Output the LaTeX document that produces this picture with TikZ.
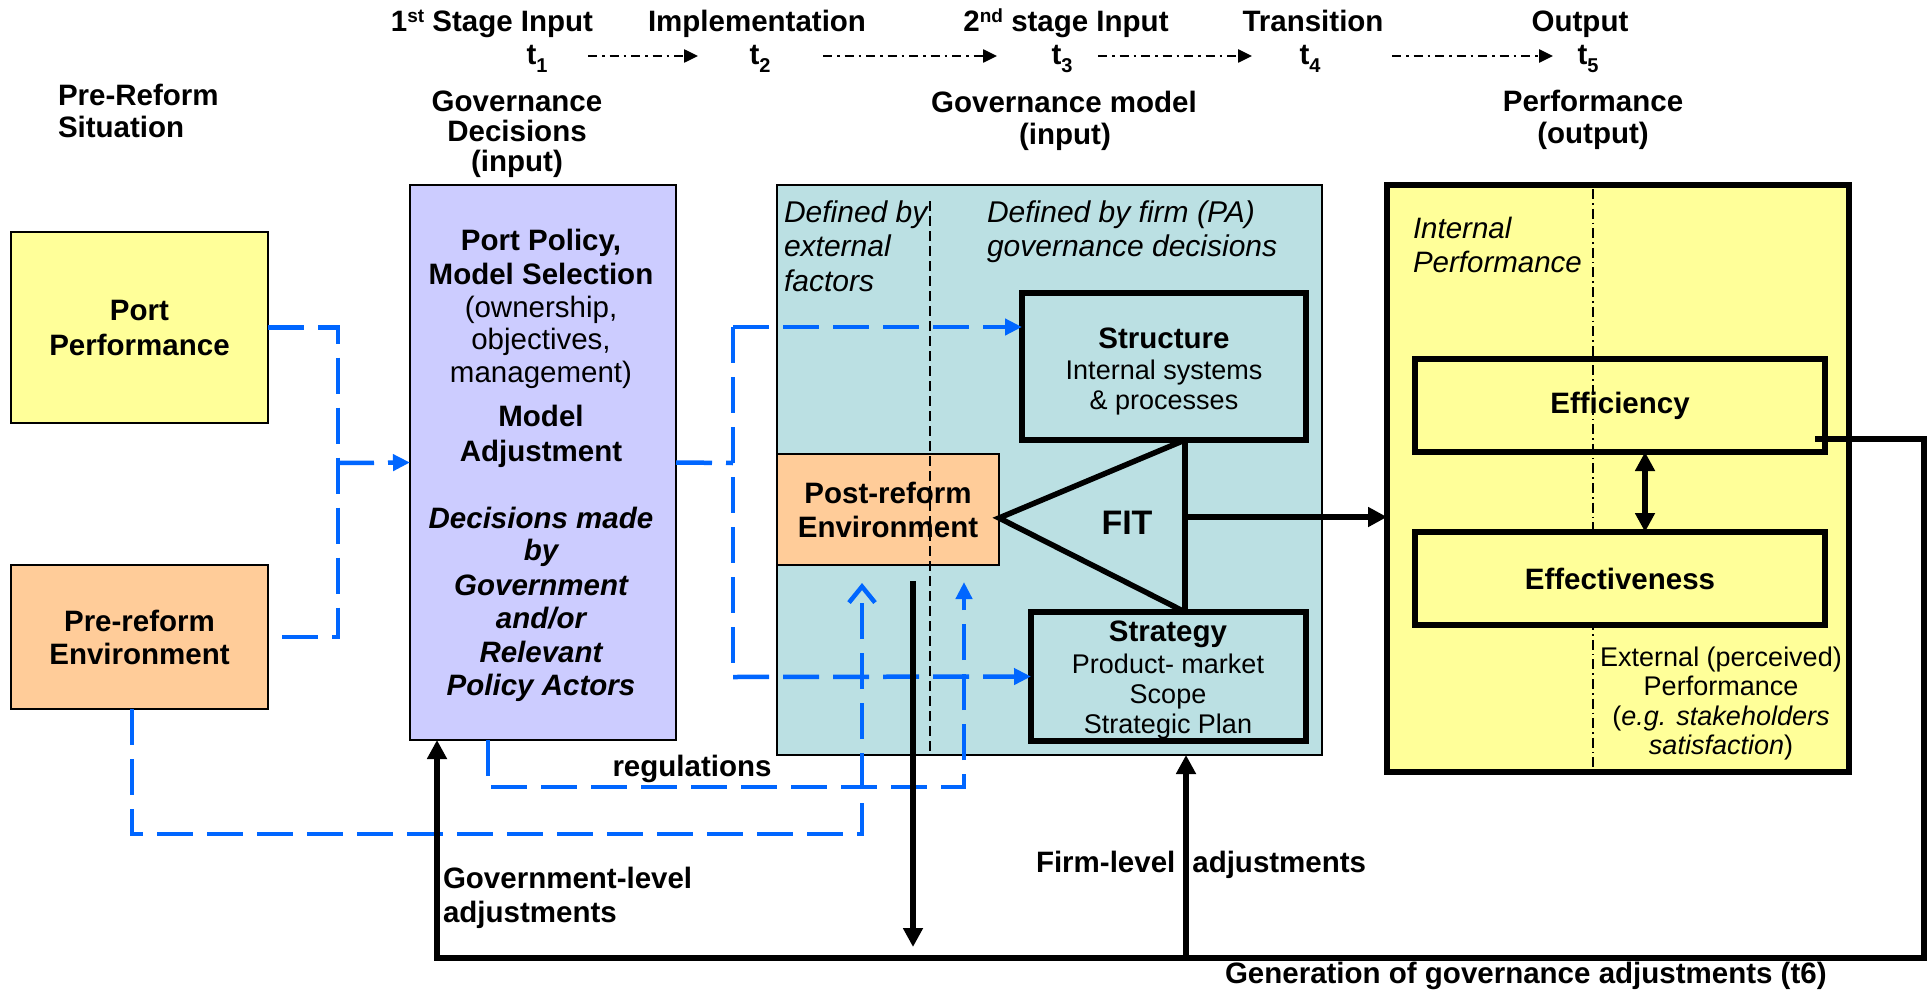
\documentclass[tikz,border=0pt]{standalone}
\usepackage{fontspec}
\setmainfont{Liberation Sans}
\usetikzlibrary{arrows.meta}
\definecolor{cyel}{HTML}{FFFF99}
\definecolor{cpea}{HTML}{FFCC99}
\definecolor{cpur}{HTML}{CCCCFF}
\definecolor{ctea}{HTML}{BBE0E3}
\definecolor{cblu}{HTML}{0066FF}
\newcommand\supr[1]{\raisebox{9pt}{\fontsize{19}{19}\selectfont #1}}
\newcommand\tsub[1]{t\raisebox{-8pt}{\fontsize{20}{20}\selectfont #1}}
\begin{document}
\begin{tikzpicture}[x=1pt,y=-1pt,
  every node/.style={inner sep=0pt,outer sep=0pt},
  bf/.style={font=\fontsize{29.5}{33}\selectfont\bfseries},
  bfi/.style={font=\fontsize{29.5}{33}\selectfont\bfseries\itshape},
  rg/.style={font=\fontsize{29.5}{33}\selectfont},
  it/.style={font=\fontsize{30}{34}\selectfont\itshape},
  sm/.style={font=\fontsize{27}{30}\selectfont},
  tl/.style={anchor=base},
  tlw/.style={anchor=base west},
  box/.style={draw=black,line width=2.5pt},
  tbox/.style={draw=black,line width=6pt},
  bdash/.style={draw=cblu,line width=4.5pt,dash pattern=on 36pt off 14pt},
  btip/.style={-{Triangle[length=17pt,width=16pt]}},
  otip/.style={-{Straight Barb[length=16pt,width=26pt]}},
  blk/.style={draw=black,line width=5.5pt,line join=miter},
  ktip/.style={-{Triangle[length=19pt,width=19pt]}},
  tarr/.style={draw=black,line width=2.5pt,dash pattern=on 9pt off 5pt on 2.5pt off 5pt,-{Triangle[length=14pt,width=13pt]}}
]
\fill[white] (0,0) rectangle (1930,990);
\useasboundingbox (0,0) rectangle (1930,990);

% ---------- header ----------
\node[bf,tl] (h1) at (492,32) {1\supr{st} Stage Input};
\node[bf,tl] (h2) at (757,32) {Implementation};
\node[bf,tl] (h3) at (1066,32) {2\supr{nd} stage Input};
\node[bf,tl] (h4) at (1313,32) {Transition};
\node[bf,tl] (h5) at (1580,32) {Output};
\node[bf,tl] (t1) at (537,65) {\tsub{1}};
\node[bf,tl] (t2) at (760,65) {\tsub{2}};
\node[bf,tl] (t3) at (1062,65) {\tsub{3}};
\node[bf,tl] (t4) at (1310,65) {\tsub{4}};
\node[bf,tl] (t5) at (1588,65) {\tsub{5}};
\coordinate (a1s) at (588,56);  \coordinate (a1e) at (698,56);
\coordinate (a2s) at (823,56);  \coordinate (a2e) at (997,56);
\coordinate (a3s) at (1098,56); \coordinate (a3e) at (1252,56);
\coordinate (a4s) at (1392,56); \coordinate (a4e) at (1553,56);
\draw[tarr] (a1s) -- (a1e);
\draw[tarr] (a2s) -- (a2e);
\draw[tarr] (a3s) -- (a3e);
\draw[tarr] (a4s) -- (a4e);

\node[bf,tlw] (pr1) at (58,105) {Pre-Reform};
\node[bf,tlw] (pr2) at (58,137) {Situation};
\node[bf,tl] (gd1) at (517,111) {Governance};
\node[bf,tl] (gd2) at (517,141) {Decisions};
\node[bf,tl] (gd3) at (517,171) {(input)};
\node[bf,tl] (gmo1) at (1064,112) {Governance model};
\node[bf,tl] (gmo2) at (1065,144) {(input)};
\node[bf,tl] (po1) at (1593,111) {Performance};
\node[bf,tl] (po2) at (1593,143) {(output)};

% ---------- boxes ----------
\node[box,fill=cyel,minimum width=257pt,minimum height=191pt,align=center,font=\fontsize{29.5}{35}\selectfont\bfseries] (pp) at (139.5,327.5) {Port\\Performance};
\node[box,fill=cpea,minimum width=257pt,minimum height=144pt,align=center,font=\fontsize{29.5}{33}\selectfont\bfseries] (pe) at (139.5,637) {Pre-reform\\Environment};
\node[box,fill=cpur,minimum width=266pt,minimum height=555pt] (gov) at (543,462.5) {};
\node[box,fill=ctea,minimum width=545pt,minimum height=570pt] (gm) at (1049.5,470) {};
\node[box,line width=2pt,fill=cpea,minimum width=222pt,minimum height=111pt,align=center,font=\fontsize{29.5}{34}\selectfont\bfseries] (post) at (888,509.5) {Post-reform\\Environment};
\node[tbox,fill=ctea,minimum width=284pt,minimum height=147pt] (str) at (1164,366.5) {};
\node[tbox,fill=ctea,minimum width=275pt,minimum height=129pt] (stg) at (1168.5,676.5) {};
\node[tbox,fill=cyel,minimum width=462pt,minimum height=587pt] (perf) at (1618,478.5) {};
\node[tbox,fill=cyel,minimum width=410pt,minimum height=93pt,bf] (eff) at (1620,405.5) {Efficiency};
\draw[line width=1.6pt,dash pattern=on 10pt off 4pt on 1.6pt off 4pt] (1593,189) -- (1593,770);
\node[tbox,fill=cyel,minimum width=410pt,minimum height=93pt,bf] (efv) at (1620,578.5) {Effectiveness};

% purple text
\node[bf,tl] (g1) at (541,250) {Port Policy,};
\node[bf,tl] (g2) at (541,284) {Model Selection};
\node[rg,tl] (g3) at (541,317) {(ownership,};
\node[rg,tl] (g4) at (541,349) {objectives,};
\node[rg,tl] (g5) at (541,382) {management)};
\node[bf,tl] (g6) at (541,426) {Model};
\node[bf,tl] (g7) at (541,461) {Adjustment};
\node[bfi,tl] (g8) at (541,528) {Decisions made};
\node[bfi,tl] (g9) at (541,560) {by};
\node[bfi,tl] (g10) at (541,595) {Government};
\node[bfi,tl] (g11) at (541,628) {and/or};
\node[bfi,tl] (g12) at (541,662) {Relevant};
\node[bfi,tl] (g13) at (541,695) {Policy Actors};

% teal text
\node[it,tlw] (d1) at (784,222) {Defined by};
\node[it,tlw] (d2) at (784,256) {external};
\node[it,tlw] (d3) at (784,291) {factors};
\node[it,tlw] (d4) at (987,222) {Defined by firm (PA)};
\node[it,tlw] (d5) at (987,256) {governance decisions};
\node[bf,tl] (s1) at (1164,348) {Structure};
\node[sm,tl] (s2) at (1164,379) {Internal systems};
\node[sm,tl] (s3) at (1164,409) {\& processes};
\node[bf,tl] (q1) at (1168,641) {Strategy};
\node[sm,tl] (q2) at (1168,673) {Product- market};
\node[sm,tl] (q3) at (1168,703) {Scope};
\node[sm,tl] (q4) at (1168,733) {Strategic Plan};
\node[tl,font=\fontsize{34}{36}\selectfont\bfseries] (fit) at (1127,534) {FIT};
\draw[line width=1.6pt,dash pattern=on 10pt off 5pt] (930,201) -- (930,755);

% yellow text
\node[tlw,font=\fontsize{29.5}{33}\selectfont\itshape] (ip1) at (1413,238) {Internal};
\node[tlw,font=\fontsize{29.5}{33}\selectfont\itshape] (ip2) at (1413,272) {Performance};
\node[sm,tl] (e1) at (1721,666) {External (perceived)};
\node[sm,tl] (e2) at (1721,695) {Performance};
\node[sm,tl] (e3) at (1721,725) {({\itshape e.g. stakeholders}};
\node[sm,tl] (e4) at (1721,754) {{\itshape satisfaction})};

% ---------- blue dashed connectors ----------
\coordinate (lv) at (338,463);
\draw[bdash] (pp.east) -- (pp.east -| lv) -- (pe.east -| lv) -- (pe.east);
\draw[bdash,btip] (lv) -- (gov.west);
\coordinate (rv) at (733,463);
\coordinate (rvt) at (733,327);
\coordinate (rvb) at (733,677);
\draw[bdash] (gov.east) -- (rv);
\draw[bdash] (rvt) -- (rvb);
\draw[bdash,btip] (rvt) -- (rvt -| str.west);
\draw[bdash,btip] (rvb) -- (stg.west);
\coordinate (pes) at (132,709);
\coordinate (lowc) at (862,834);
\coordinate (otipc) at (862,583);
\draw[bdash,otip] (pes) |- (lowc) -- (otipc);
\coordinate (gvs) at (488,740);
\coordinate (regc) at (964,787);
\coordinate (ftipc) at (964,582);
\draw[bdash,btip] (gvs) |- (regc) -- (ftipc);

% ---------- black connectors ----------
\coordinate (ftop) at (1185,440);
\coordinate (fbot) at (1185,612);
\coordinate (apex) at (999,518);
\coordinate (fmid) at (1185,517);
\draw[blk] (ftop) -- (fbot);
\draw[blk] (ftop) -- (apex) -- (fbot);
\draw[blk,ktip] (fmid) -- (fmid -| perf.west);
\coordinate (dax) at (1645,0);
\draw[blk,{Triangle[length=19pt,width=19pt]}-{Triangle[length=19pt,width=19pt]}] (eff.south -| dax) -- (efv.north -| dax);
\coordinate (fb0) at (1815,439);
\coordinate (fb1) at (1924,439);
\coordinate (fb2) at (1924,958);
\coordinate (fb3) at (437,958);
\draw[blk,ktip] (fb0) -- (fb1) -- (fb2) -- (fb3) -- (fb3 |- gov.south);
\coordinate (fl) at (1186,958);
\draw[blk,ktip] (fl) -- (fl |- gm.south);
\coordinate (dn0) at (913,581);
\coordinate (dn1) at (913,947);
\draw[blk,ktip] (dn0) -- (dn1);

% ---------- lower labels ----------
\node[bf,tl] (reg) at (692,776) {regulations};
\node[bf,tlw] (gl1) at (443,888) {Government-level};
\node[bf,tlw] (gl2) at (443,922) {adjustments};
\node[bf,tlw] (fla) at (1036,872) {Firm-level\hspace{17pt}adjustments};
\node[bf,tlw] (gen) at (1225,983) {Generation of governance adjustments (t6)};
\end{tikzpicture}
\end{document}
